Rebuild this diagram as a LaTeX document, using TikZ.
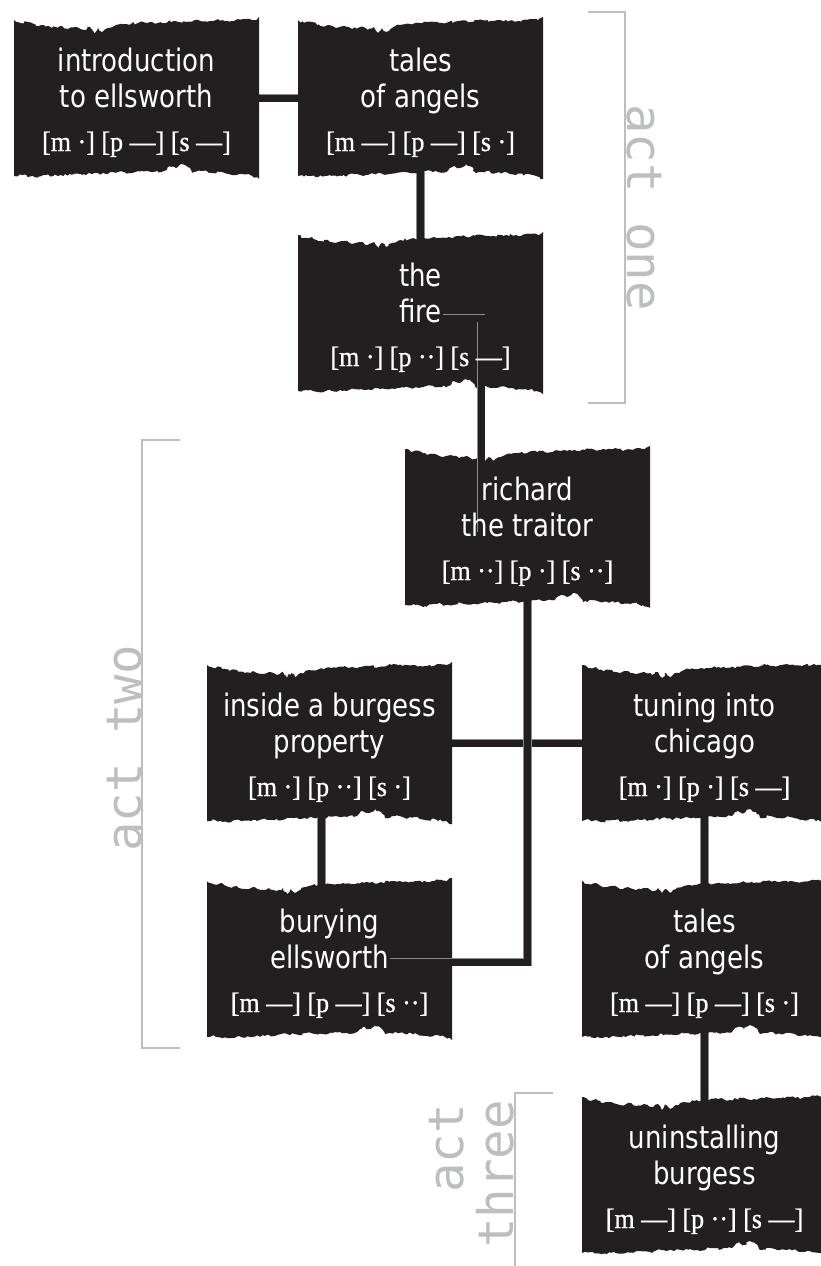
\documentclass[tikz,border=0pt]{standalone}
\usepackage{fontspec}
\setmainfont{Liberation Serif}
\newfontfamily\mkfont{Liberation Serif}[FakeStretch=0.93, FakeBold=0.8]
\newfontfamily\scrfont{DejaVu Sans}[FakeStretch=0.84]
\newfontfamily\actfont{DejaVu Sans Mono}
\usetikzlibrary{decorations.pathmorphing,calc}
\definecolor{ink}{HTML}{231F20}
\definecolor{bracketgray}{HTML}{BCBEC0}
\pgfdeclarelayer{paper}
\pgfdeclarelayer{under}
\pgfdeclarelayer{boxes}
\pgfdeclarelayer{over}
\pgfsetlayers{paper,under,boxes,over,main}
\tikzset{
  boxnode/.style={minimum width=245pt, minimum height=162pt, inner sep=0pt, outer sep=0pt},
  scr/.style={text=white, font=\scrfont\fontsize{31}{36}\selectfont, inner sep=0pt, anchor=base},
  mk/.style={text=white, font=\mkfont\fontsize{28}{32}\selectfont, inner sep=0pt, anchor=base},
  conn/.style={draw=black!45, line width=0.6pt, double=ink, double distance=7pt},
  brk/.style={draw=bracketgray, line width=2pt},
  act/.style={text=bracketgray, font=\actfont\fontsize{49}{56}\selectfont, inner sep=0pt},
  tear/.style={decoration={random steps, segment length=2.5pt, amplitude=1.3pt}}
}
\newcommand\scene[6]{%
  \node[boxnode] (#1) at (#2,#3) {};
  \node[scr] (#1-a) at (#2,#3-27) {#4};
  \node[scr] (#1-b) at (#2,#3+9) {#5};
  \node[mk] (#1-c) at (#2,#3+53) {#6};
  \begin{pgfonlayer}{boxes}
  \fill[ink,shift={(#1.north west)}] (0,3)
    decorate[tear]{-- (6,6) -- (14,5) -- (22,9) -- (30,8) -- (38,11) -- (46,9) -- (54,12) -- (62,10) -- (70,13) -- (76,10) -- (80,16) -- (84,11) -- (88,15) -- (94,11) -- (102,8) -- (112,7) -- (124,6) -- (136,5) -- (148,6) -- (160,4) -- (172,5) -- (184,3) -- (196,4) -- (208,3) -- (220,4) -- (232,2) -- (240,3) -- (245,0)}
    -- (245,162)
    decorate[tear]{-- (238,159) -- (228,157) -- (218,158) -- (208,155) -- (198,156) -- (188,154) -- (178,156) -- (174,150) -- (168,147) -- (162,151) -- (156,149) -- (150,154) -- (140,155) -- (128,154) -- (116,156) -- (104,155) -- (92,157) -- (80,156) -- (68,158) -- (56,157) -- (44,159) -- (32,158) -- (20,160) -- (8,158) -- (0,159)}
    -- cycle;
  \end{pgfonlayer}%
}
\begin{document}
\begin{tikzpicture}[x=1pt,y=-1pt]
\pgfmathsetseed{42}
\useasboundingbox (0,0) rectangle (820,1266);
\begin{pgfonlayer}{paper}
\fill[white] (0,0) rectangle (820,1266);
\end{pgfonlayer}

\scene{intro}{136.5}{98}{introduction}{to ellsworth}{[m ·] [p —] [s —]}
\scene{tales1}{420.5}{98}{tales}{of angels}{[m —] [p —] [s ·]}
\scene{fire}{420.5}{313}{the}{fire}{[m ·] [p ··] [s —]}
\scene{richard}{527.5}{527}{richard}{the traitor}{[m ··] [p ·] [s ··]}
\scene{inside}{329.5}{743}{inside a burgess}{property}{[m ·] [p ··] [s ·]}
\scene{turning}{704.5}{743}{tuning into}{chicago}{[m ·] [p ·] [s —]}
\scene{burying}{329.5}{959}{burying}{ellsworth}{[m —] [p —] [s ··]}
\scene{tales2}{704.5}{959}{tales}{of angels}{[m —] [p —] [s ·]}
\scene{uninstalling}{704.5}{1175}{uninstalling}{burgess}{[m —] [p ··] [s —]}

\coordinate (fr) at (481,532);

\begin{pgfonlayer}{under}
\draw[conn] (intro.center) -- (tales1.center);
\draw[conn] (tales1.center) -- (fire.center);
\draw[conn] (inside.center) -- (turning.center);
\draw[conn] ([xshift=-8pt]inside.center) -- ([xshift=-8pt]burying.center);
\draw[conn] (turning.center) -- (tales2.center);
\draw[conn] (tales2.center) -- (uninstalling.center);
\draw[conn] (richard.center) -- (richard.south);
\end{pgfonlayer}
\begin{pgfonlayer}{over}
\draw[conn] ($(fire-b.base east)+(1,-4)$) -| (fr);
\draw[conn] (richard.south) |- ($(burying-b.base east)+(1,-6)$);
\end{pgfonlayer}

% act brackets and labels
\draw[brk] (588,12) -- (625,12) -- (625,403) -- (588,403);
\node[act, rotate=-90, anchor=base west] (actone) at (627,104) {act one};
\draw[brk] (180,440) -- (142,440) -- (142,1048) -- (180,1048);
\node[act, rotate=90, anchor=base west] (acttwo) at (141,852) {act two};
\draw[brk] (553,1093) -- (515,1093) -- (515,1266);
\node[act, rotate=90, anchor=base east] (actthreea) at (463,1104) {act};
\node[act, rotate=90, anchor=base east] (actthreeb) at (513,1100) {three};
\end{tikzpicture}
\end{document}
